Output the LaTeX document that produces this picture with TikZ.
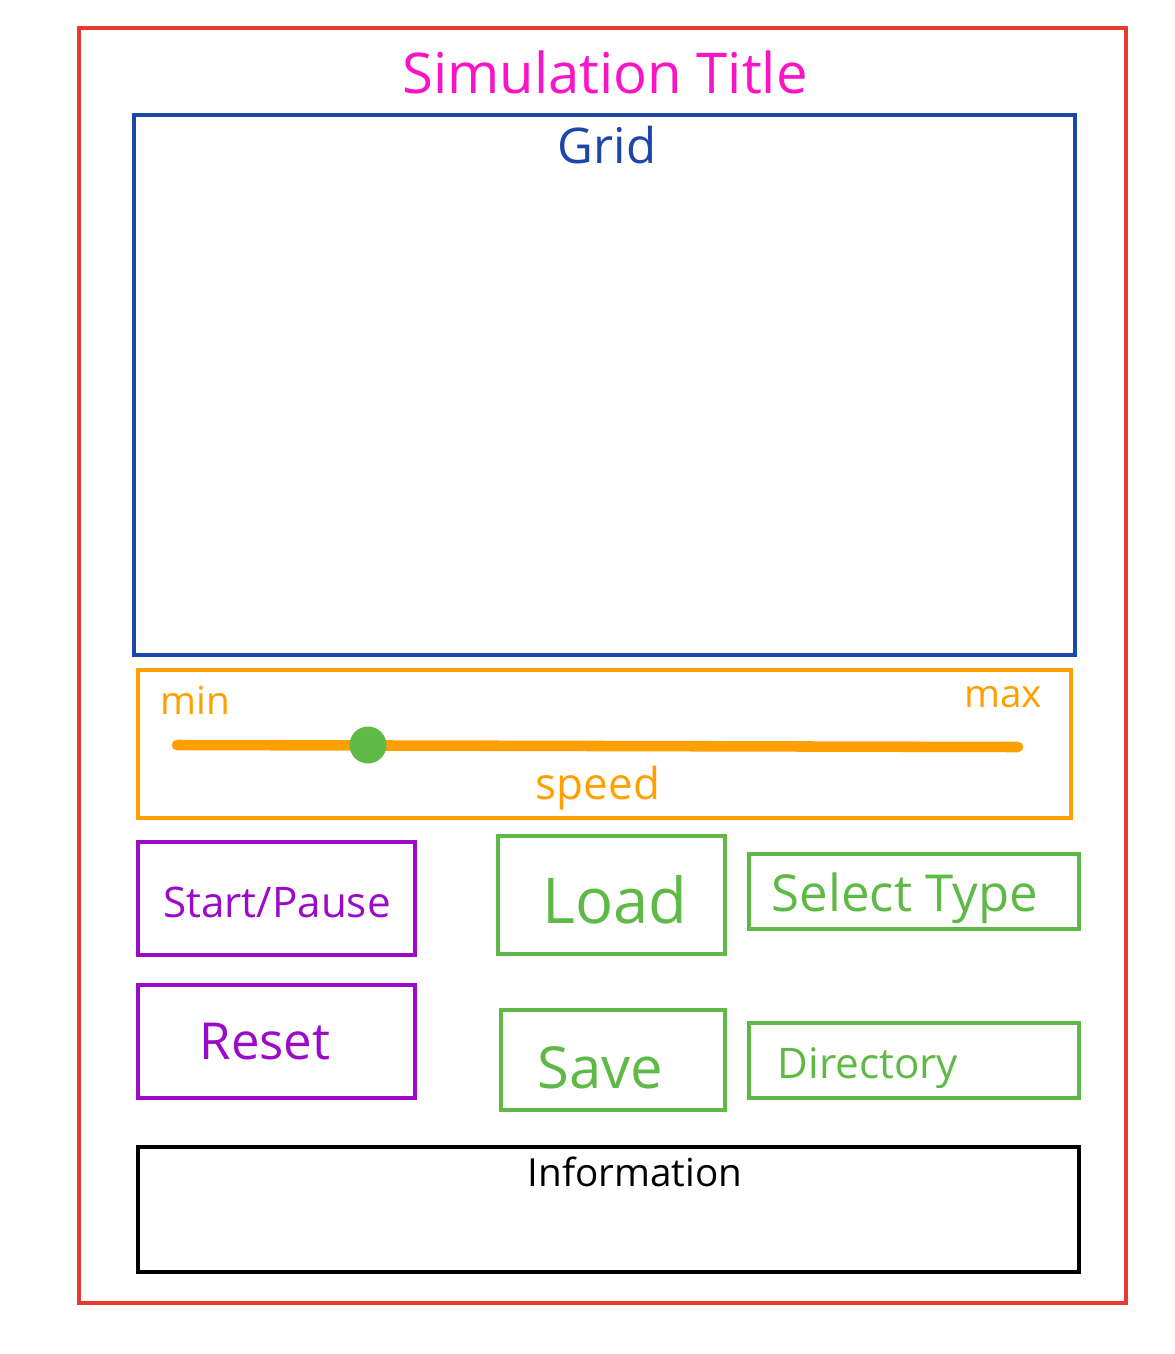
\documentclass[tikz,border=0pt]{standalone}
\usepackage{fontspec}
\setmainfont{Open Sans}
\definecolor{cred}{RGB}{230,60,45}
\definecolor{cmag}{RGB}{250,20,200}
\definecolor{cblue}{RGB}{30,70,170}
\definecolor{corange}{RGB}{255,160,0}
\definecolor{cgreen}{RGB}{95,185,70}
\definecolor{cpurple}{RGB}{155,10,200}
\newcommand{\fs}[1]{\fontsize{#1}{#1}\selectfont}
\begin{document}
\begin{tikzpicture}[x=0.02cm,y=-0.02cm,
  box/.style={draw=#1,line width=1.8pt},
  lbl/.style={text=#1,inner sep=0pt,anchor=center}]
\useasboundingbox (0,0) rectangle (1175,1354);
% frame
\draw[box=cred] (79,28) rectangle (1126,1303);
\node[lbl=cmag,font=\fs{32}] (title) at (605,72) {Simulation Title};
% grid
\draw[box=cblue] (134,115) rectangle (1075,655);
\node[lbl=cblue,font=\fs{28}] (grid) at (607,145) {Grid};
% speed slider
\draw[box=corange] (138,670) rectangle (1071,818);
\node[lbl=corange,font=\fs{22}] (min) at (195,700) {min};
\node[lbl=corange,font=\fs{22}] (max) at (1003,697) {max};
\coordinate (s0) at (177,745);
\coordinate (s1) at (1018,747);
\draw[corange,line width=6pt,line cap=round] (s0) -- (s1);
\node[circle,fill=cgreen,minimum size=0.74cm,inner sep=0pt] (knob) at (368,745) {};
\node[lbl=corange,font=\fs{25}] (speed) at (598,788) {speed};
% buttons
\draw[box=cpurple] (138,842) rectangle (415,955);
\node[lbl=cpurple,font=\fs{24}] (start) at (277,902) {Start/Pause};
\draw[box=cpurple] (138,985) rectangle (415,1098);
\node[lbl=cpurple,font=\fs{29}] (reset) at (265,1042) {Reset};
\draw[box=cgreen] (498,836) rectangle (725,954);
\node[lbl=cgreen,font=\fs{36}] (load) at (615,900) {Load};
\draw[box=cgreen] (749,854) rectangle (1079,929);
\node[lbl=cgreen,font=\fs{29}] (type) at (905,898) {Select Type};
\draw[box=cgreen] (501,1010) rectangle (725,1110);
\node[lbl=cgreen,font=\fs{33}] (save) at (600,1068) {Save};
\draw[box=cgreen] (749,1023) rectangle (1079,1098);
\node[lbl=cgreen,font=\fs{24}] (dir) at (868,1068) {Directory};
% information
\draw[box=black] (138,1147) rectangle (1079,1272);
\node[lbl=black,font=\fs{22}] (info) at (635,1172) {Information};
\end{tikzpicture}
\end{document}
